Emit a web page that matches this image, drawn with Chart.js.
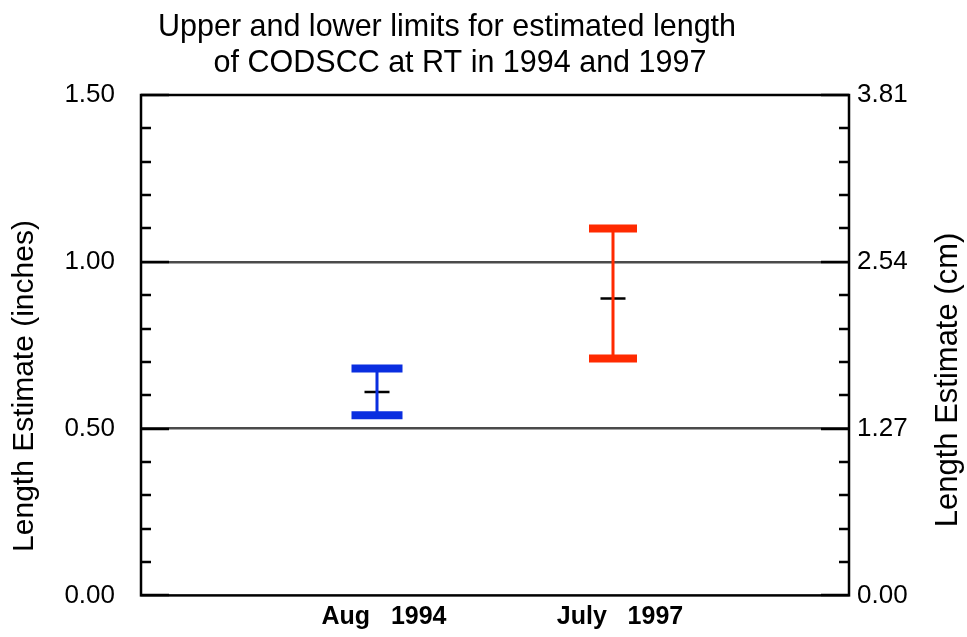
<!DOCTYPE html>
<html>
<head>
<meta charset="utf-8">
<script src="https://cdn.jsdelivr.net/npm/chart.js@4/dist/chart.umd.min.js"></script>
<style>
  body { margin: 0; background: #fff; }
</style>
</head>
<body>
<canvas id="myChart" width="967" height="637"></canvas>
<script>
const categories = ['Aug   1994', 'July   1997']
const lowerLimits = [0.54, 0.71]
const upperLimits = [0.68, 1.10]
const estimates = [0.61, 0.89]
const inchTicks = [0, 0.5, 1.0, 1.5]
const cmTicks = [0, 1.27, 2.54, 3.81]

const titleLines = ['Upper and lower limits for estimated length', 'of CODSCC at RT in 1994 and 1997']
const leftTitle = 'Length Estimate (inches)'
const rightTitle = 'Length Estimate (cm)'

const barColors = ['#0a2ee0', '#ff2a00']
const capRadius = [25.5, 24]
const FONT = '"Liberation Sans", Arial, Helvetica, sans-serif'

// range line + caps for each date
const rangeSets = categories.map((c, i) => ({
    type: 'line',
    data: [{ x: i + 1, y: lowerLimits[i] }, { x: i + 1, y: upperLimits[i] }],
    borderColor: barColors[i],
    borderWidth: 3,
    pointStyle: 'line',
    pointRadius: capRadius[i],
    pointBorderWidth: 8,
    pointBorderColor: barColors[i],
    showLine: true,
    yAxisID: 'y'
}))

const estimateSet = {
    type: 'scatter',
    data: estimates.map((v, i) => ({ x: i + 1, y: v })),
    pointStyle: 'line',
    pointRadius: 12.5,
    pointBorderWidth: 2.5,
    pointBorderColor: '#000',
    borderColor: '#000',
    showLine: false,
    yAxisID: 'y'
}

const frame = {
    id: 'frame',
    afterDraw(chart) {
        const ctx = chart.ctx
        const a = chart.chartArea
        const y = chart.scales.y
        ctx.save()
        ctx.strokeStyle = '#000'
        ctx.lineWidth = 2.5
        // inner tick marks, every 0.1 in, longer at the labelled values
        for (let k = 0; k <= 15; k++) {
            const py = Math.round(y.getPixelForValue(k / 10))
            const len = k % 5 === 0 ? 28 : 10
            ctx.beginPath()
            ctx.moveTo(a.left, py); ctx.lineTo(a.left + len, py)
            ctx.moveTo(a.right, py); ctx.lineTo(a.right - len, py)
            ctx.stroke()
        }
        ctx.strokeRect(a.left, a.top, a.right - a.left, a.bottom - a.top)

        ctx.fillStyle = '#000'
        ctx.textBaseline = 'alphabetic'
        ctx.textAlign = 'center'
        ctx.font = '30.5px ' + FONT
        ctx.fillText(titleLines[0], 447, 36)
        ctx.fillText(titleLines[1], 460, 72)

        ctx.textBaseline = 'middle'
        ctx.font = '30px ' + FONT
        ctx.save()
        ctx.translate(25, 386)
        ctx.rotate(-Math.PI / 2)
        ctx.fillText(leftTitle, 0, 0)
        ctx.restore()
        ctx.save()
        ctx.translate(948, 380)
        ctx.rotate(-Math.PI / 2)
        ctx.font = '31px ' + FONT
        ctx.fillText(rightTitle, 0, 0)
        ctx.restore()
        ctx.restore()
    }
}

const chart = new Chart('myChart', {
    data: { datasets: [...rangeSets, estimateSet] },
    options: {
        responsive: false,
        devicePixelRatio: 1,
        animation: false,
        layout: { padding: { top: 95, left: 0, right: 0, bottom: 0 } },
        plugins: { legend: { display: false }, tooltip: { enabled: false } },
        scales: {
            x: {
                type: 'linear',
                min: 0, max: 3,
                afterBuildTicks: s => { s.ticks = categories.map((c, i) => ({ value: i + 1 })) },
                afterFit: s => { s.height = 41 },
                grid: { display: false, drawTicks: false },
                border: { display: false },
                ticks: {
                    callback: (v, i) => categories[i],
                    font: { family: FONT, size: 25, weight: 'bold' },
                    color: '#000',
                    padding: 7,
                    labelOffset: 7,
                    maxRotation: 0,
                    autoSkip: false
                }
            },
            y: {
                type: 'linear',
                position: 'left',
                min: 0, max: 1.5,
                afterBuildTicks: s => { s.ticks = inchTicks.map(v => ({ value: v })) },
                afterFit: s => { s.width = 141 },
                grid: {
                    drawTicks: false,
                    lineWidth: 2.5,
                    color: c => (c.tick && (c.tick.value === 0.5 || c.tick.value === 1)) ? '#4a4a4a' : 'rgba(0,0,0,0)'
                },
                border: { display: false },
                ticks: {
                    callback: v => v.toFixed(2),
                    font: { family: FONT, size: 26 },
                    color: '#000',
                    padding: 26
                }
            },
            y2: {
                type: 'linear',
                position: 'right',
                min: 0, max: 3.81,
                afterBuildTicks: s => { s.ticks = cmTicks.map(v => ({ value: v })) },
                afterFit: s => { s.width = 118 },
                grid: { drawOnChartArea: false, drawTicks: false },
                border: { display: false },
                ticks: {
                    callback: v => v.toFixed(2),
                    font: { family: FONT, size: 26 },
                    color: '#000',
                    padding: 8
                }
            }
        }
    },
    plugins: [frame]
})
</script>
</body>
</html>
